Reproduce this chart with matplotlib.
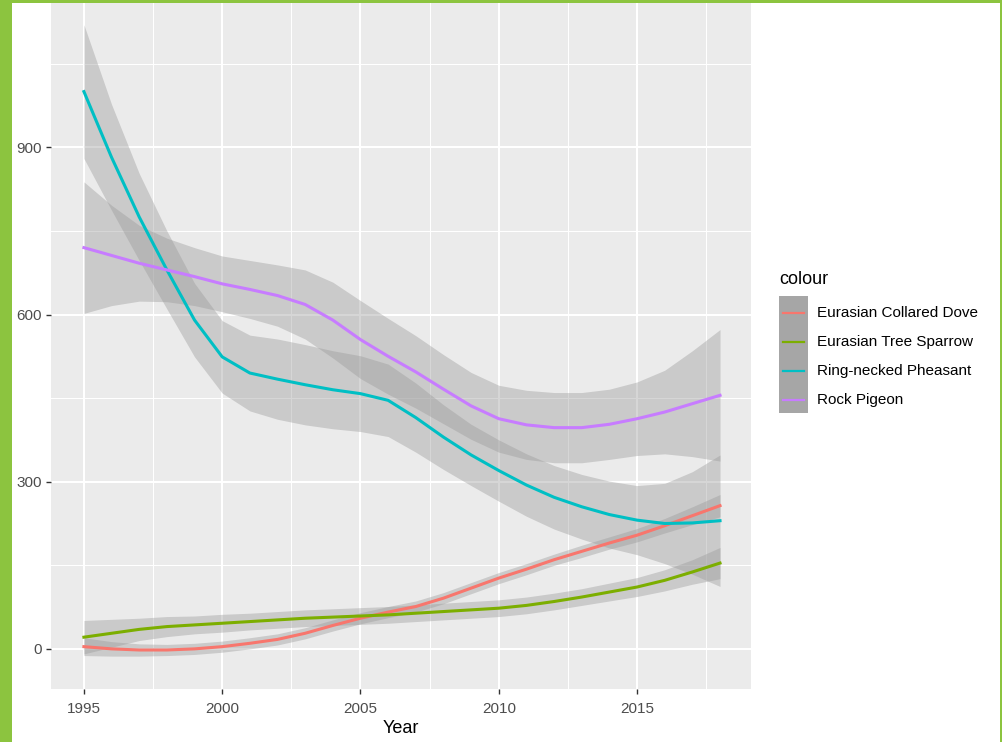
import numpy as np
import matplotlib
matplotlib.use("Agg")
import matplotlib.pyplot as plt
from matplotlib.patches import Rectangle
from matplotlib.lines import Line2D

plt.rcParams["font.family"] = ["Liberation Sans", "DejaVu Sans"]

# Smoothed yearly counts (loess fit) with the half-width of the confidence band
years = list(range(1995, 2019))

species = ["Eurasian Collared Dove", "Eurasian Tree Sparrow",
           "Ring-necked Pheasant", "Rock Pigeon"]
colors = ["#F8766D", "#7CAE00", "#00BFC4", "#C77CFF"]

dove_fit = [4, 0, -2, -2, 0, 4, 10, 17, 28, 42, 55, 66, 76, 91, 109, 127,
            143, 160, 175, 190, 204, 221, 239, 257]
dove_se = [16, 13, 11, 10, 10, 10, 10, 10, 10, 10, 10, 10, 10, 10, 10, 10,
           10, 10, 11, 11, 12, 13, 16, 20]

sparrow_fit = [21, 28, 35, 40, 43, 46, 49, 52, 55, 57, 59, 61, 64, 67, 70, 73,
               78, 85, 93, 102, 111, 123, 138, 154]
sparrow_se = [30, 25, 20, 18, 16, 16, 15, 15, 15, 15, 15, 15, 15, 15, 15, 15,
              15, 15, 15, 16, 17, 19, 22, 28]

pheasant_fit = [1000, 882, 775, 680, 590, 524, 495, 484, 474, 465, 458, 446,
                415, 380, 348, 320, 294, 272, 255, 241, 231, 225, 226, 230]
pheasant_se = [120, 95, 78, 70, 66, 65, 68, 72, 72, 70, 68, 65, 62, 58, 55,
               55, 56, 57, 58, 60, 62, 72, 92, 118]

pigeon_fit = [720, 706, 692, 680, 668, 655, 645, 634, 618, 590, 555, 525, 497,
              466, 436, 413, 402, 397, 397, 403, 413, 425, 440, 455]
pigeon_se = [118, 90, 68, 57, 52, 50, 52, 55, 62, 68, 70, 68, 65, 62, 60, 60,
             62, 63, 63, 63, 66, 75, 95, 118]

fits = [dove_fit, sparrow_fit, pheasant_fit, pigeon_fit]
ses = [dove_se, sparrow_se, pheasant_se, pigeon_se]

x_ticks = [1995, 2000, 2005, 2010, 2015]
y_ticks = [0, 300, 600, 900]

W, H = 1003, 742
fig = plt.figure(figsize=(W / 100, H / 100), dpi=100)
fig.patch.set_facecolor("#8CC43F")


def fx(px):
    return px / W


def fy(py):
    return 1 - py / H


# white page inside the green frame
fig.add_artist(Rectangle((fx(12), 0), fx(1000) - fx(12), fy(3),
                         transform=fig.transFigure, facecolor="white",
                         edgecolor="none", zorder=0))

ax = fig.add_axes([fx(51), fy(689), fx(751) - fx(51), fy(3) - fy(689)])
ax.set_facecolor("#EBEBEB")
for s in ax.spines.values():
    s.set_visible(False)

yrs = np.array(years, dtype=float)
for fit, se in zip(fits, ses):
    fit = np.array(fit, dtype=float)
    se = np.array(se, dtype=float)
    ax.fill_between(yrs, fit - se, fit + se, color="#999999", alpha=0.4,
                    linewidth=0, zorder=2)
for fit, col in zip(fits, colors):
    ax.plot(yrs, fit, color=col, lw=2.2, zorder=3, solid_joinstyle="round")

ax.set_xlim(1993.81, 2019.12)
ax.set_ylim(-72, 1159)
ax.set_xticks(x_ticks)
ax.set_xticks([1997.5, 2002.5, 2007.5, 2012.5, 2017.5], minor=True)
ax.set_yticks(y_ticks)
ax.set_yticks([150, 450, 750, 1050], minor=True)
ax.grid(which="major", color="white", lw=1.5, zorder=1)
ax.grid(which="minor", color="white", lw=0.75, zorder=1)
ax.set_axisbelow(True)
ax.tick_params(axis="x", which="major", length=3.5, width=1.0,
               color="#333333", labelcolor="#4D4D4D", labelsize=11, pad=6)
ax.tick_params(axis="y", which="major", length=3.5, width=1.0,
               color="#333333", labelcolor="#4D4D4D", labelsize=11, pad=3)
ax.tick_params(which="minor", length=0)
ax.set_xlabel("Year", fontsize=13, color="black", labelpad=3)

# legend
fig.text(fx(779), fy(279), "colour", fontsize=13, ha="left", va="center")
fig.add_artist(Rectangle((fx(779), fy(413)), fx(808) - fx(779),
                         fy(296) - fy(413), transform=fig.transFigure,
                         facecolor="#A6A6A6", edgecolor="none"))
key_y = [313, 342, 371, 400]
for name, col, ky in zip(species, colors, key_y):
    fig.add_artist(Line2D([fx(783), fx(804)], [fy(ky), fy(ky)],
                          transform=fig.transFigure, color=col, lw=1.6))
    fig.text(fx(817), fy(ky), name, fontsize=11, ha="left", va="center",
             color="black")

fig.savefig("out.png", dpi=100, facecolor=fig.get_facecolor())
